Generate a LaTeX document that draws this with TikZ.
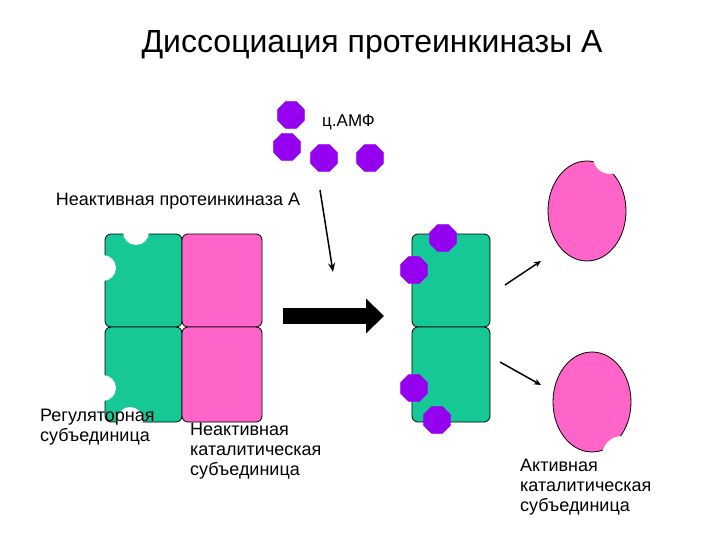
\documentclass[tikz,border=0pt]{standalone}
\usepackage{fontspec}
\setmainfont{Liberation Sans}
\usetikzlibrary{shapes.geometric,arrows.meta}
\definecolor{grn}{RGB}{22,200,150}
\definecolor{pnk}{RGB}{255,100,200}
\definecolor{vio}{RGB}{150,0,240}
\begin{document}
\begin{tikzpicture}[x=1pt,y=-1pt,
 cell/.style={draw=black,line width=0.8pt,rounded corners=6pt},
 camp/.style={regular polygon,regular polygon sides=8,fill=vio,draw=vio,minimum size=29pt,inner sep=0pt},
 notch/.style={circle,fill=white,minimum size=26pt,inner sep=0pt},
 lbl/.style={font=\fontsize{18pt}{20pt}\selectfont,align=left,anchor=north west,inner sep=0pt}]
\useasboundingbox (0,0) rectangle (720,540);
% left block
\fill[grn,cell] (105,234) rectangle (182,327);
\fill[grn,cell] (105,327) rectangle (182,422);
\fill[pnk,cell] (182,234) rectangle (262,327);
\fill[pnk,cell] (182,327) rectangle (262,422);
\node[notch] (n1) at (136,232) {};
\node[notch] (n2) at (103,268) {};
\node[notch] (n3) at (103,388) {};
\node[notch] (n4) at (130,420) {};
% right block
\fill[grn,cell] (412,234) rectangle (490,327);
\fill[grn,cell] (412,327) rectangle (490,422);
\node[camp] (c5) at (443,238) {};
\node[camp] (c6) at (414,270) {};
\node[camp] (c7) at (414,388) {};
\node[camp] (c8) at (437,420) {};
% free cAMP
\node[camp] (c1) at (291,115) {};
\node[camp] (c2) at (287,147) {};
\node[camp] (c3) at (324,158) {};
\node[camp] (c4) at (370,158) {};
\node[anchor=west,inner sep=0pt,font=\fontsize{17pt}{20pt}\selectfont] (camp) at (322,122) {ц.АМФ};
% texts
\node[font=\fontsize{32pt}{36pt}\selectfont] (title) at (372,45) {Диссоциация протеинкиназы А};
\node[font=\fontsize{18pt}{20pt}\selectfont] (inact) at (178,201) {Неактивная протеинкиназа А};
\node[lbl] (l1) at (40,409) {Регуляторная\\субъединица};
\node[lbl] (l2) at (190,423) {Неактивная\\каталитическая\\субъединица};
\node[lbl] (l3) at (520,459) {Активная\\каталитическая\\субъединица};
% arrows
\coordinate (a1) at (320,190); \coordinate (a2) at (333,272);
\draw[line width=1.5pt,-{Stealth[length=9pt,width=7pt]}] (a1) -- (a2);
\coordinate (b1) at (283,316); \coordinate (b2) at (384,316);
\draw[line width=16pt,-{Triangle[length=18pt,width=34pt]}] (b1) -- (b2);
\coordinate (d1) at (505,285); \coordinate (d2) at (541,261);
\draw[line width=1.5pt,-{Stealth[length=7pt,width=6pt]}] (d1) -- (d2);
\coordinate (e1) at (500,362); \coordinate (e2) at (541,385);
\draw[line width=1.5pt,-{Stealth[length=7pt,width=6pt]}] (e1) -- (e2);
% active catalytic subunits
\filldraw[fill=pnk,draw=black,line width=0.8pt] (587,211) ellipse (39pt and 50pt);
\fill[white] (610,157) circle (17pt);
\filldraw[fill=pnk,draw=black,line width=0.8pt] (592,402) ellipse (39pt and 50pt);
\fill[white] (622,456) circle (20pt);
\end{tikzpicture}
\end{document}
